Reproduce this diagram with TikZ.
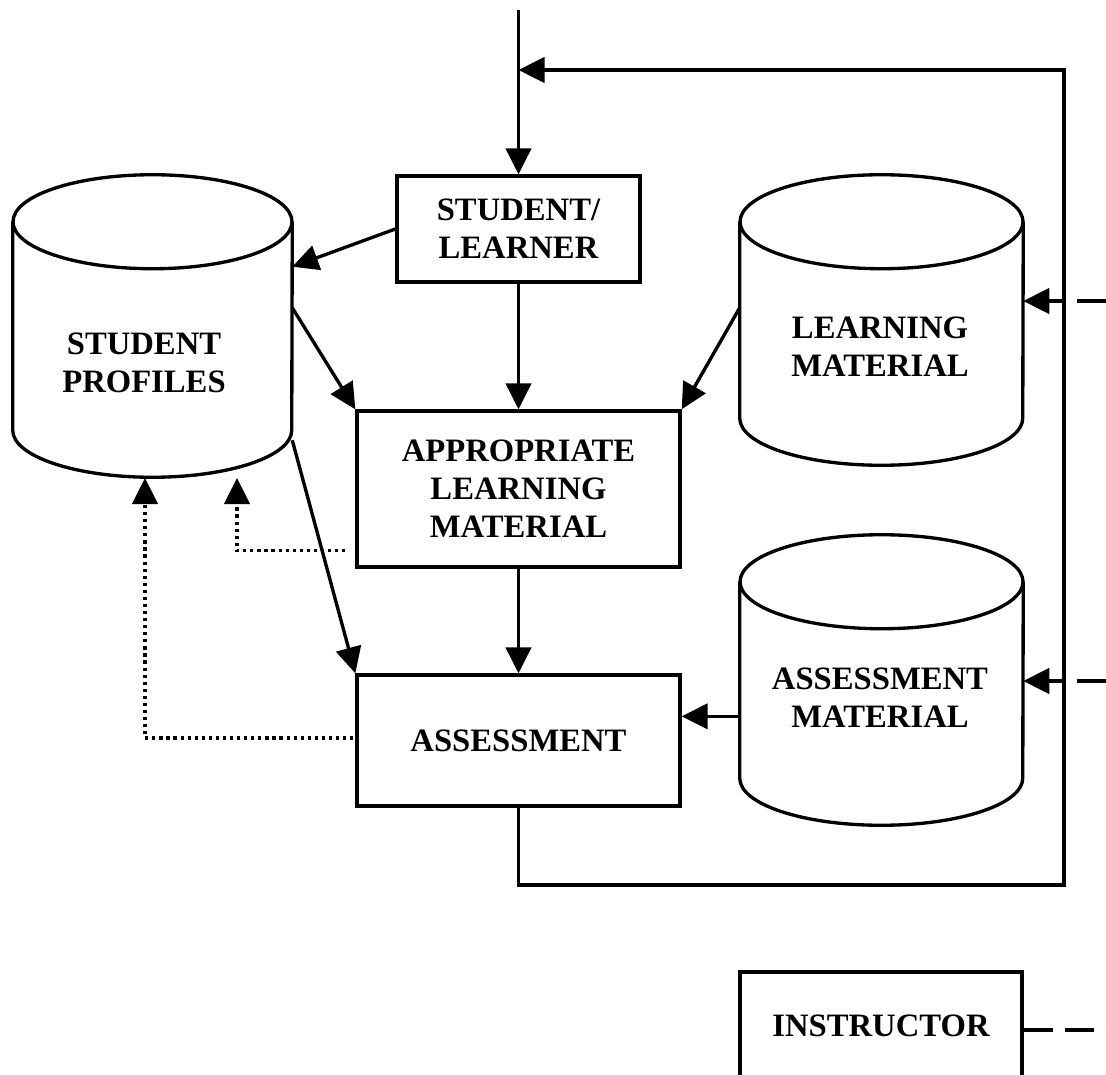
\documentclass[tikz,border=0pt]{standalone}
\usepackage{fontspec}
\setmainfont{Liberation Serif}
\usetikzlibrary{arrows.meta,calc}

% bold caption font used in every box
\newcommand\diaglabel{\fontsize{24.5}{28.5}\selectfont\bfseries}

% draws a database cylinder around a body node: sides, bottom half ellipse, top ellipse
\newcommand\drawcyl[3]{%
  \draw[line] (#1.north west) -- (#1.south west)
    arc[start angle=180,end angle=360,x radius=#2,y radius=#3] -- (#1.north east);
  \draw[line] (#1.north) ellipse[x radius=#2,y radius=#3];}

\begin{document}
\begin{tikzpicture}[x=0.75pt,y=-0.75pt,
  line/.style={line width=2.5pt},
  arr/.style={line, -{Triangle[length=19.5pt,width=19pt]}},
  dotline/.style={arr, dash pattern=on 2.4pt off 2.9pt},
  dashline/.style={arr, dash pattern=on 21.75pt off 9.75pt},
  box/.style={draw, line width=2.5pt, inner sep=0pt, align=center, font=\diaglabel},
  body/.style={inner sep=0pt},
  lbl/.style={align=center, font=\diaglabel, inner sep=0pt}]

\useasboundingbox (0,0) rectangle (1106,1074);
\clip (0,0) rectangle (1106,1074);

% boxes
\node[box, minimum width=182.25pt, minimum height=79.5pt] (stud) at (518.5,229) {STUDENT/\\LEARNER};
\node[box, minimum width=242.25pt, minimum height=117pt] (app) at (518.5,489) {APPROPRIATE\\LEARNING\\MATERIAL};
\node[box, minimum width=242.25pt, minimum height=98.25pt] (ass) at (518.5,740.5) {ASSESSMENT};
\node[box, minimum width=211.5pt, minimum height=81pt] (instr) at (881,1026) {INSTRUCTOR};

% cylinder bodies (between the centres of the end ellipses)
\node[body, minimum width=209.25pt, minimum height=156pt] (spro) at (152.5,326) {};
\node[body, minimum width=212.25pt, minimum height=147pt] (lm) at (881.5,320) {};
\node[body, minimum width=212.25pt, minimum height=147pt] (am) at (881.5,680) {};
\drawcyl{spro}{104.625pt}{35.25pt}
\drawcyl{lm}{106.125pt}{35.25pt}
\drawcyl{am}{106.125pt}{35.25pt}

\node[lbl] (sprot) at (144,363) {STUDENT\\PROFILES};
\node[lbl] (lmt) at (880,346.5) {LEARNING\\MATERIAL};
\node[lbl] (amt) at (880,697.5) {ASSESSMENT\\MATERIAL};

% main flow
\coordinate (in) at (518.5,10);
\draw[arr] (in) -- (stud.north);
\draw[arr] (stud.west) -- ($(spro.north east)+(0,45)$);
\draw[arr] ($(spro.north east)+(0,86)$) -- (app.north west);
\draw[arr] (stud.south) -- (app.north);
\draw[arr] ($(lm.north west)+(0,86)$) -- (app.north east);
\draw[arr] (app.south) -- (ass.north);
\draw[arr] ($(spro.south east)+(0,10)$) -- (ass.north west);
\coordinate (amin) at ($(ass.north east)+(0,43)$);
\draw[arr] (am.west |- amin) -- (amin);

% profile updates
\coordinate (d1) at ($(app.south west)+(-10,-18)$);
\coordinate (d1t) at (237,478);
\draw[dotline] (d1) -| (d1t);
\coordinate (d2) at ($(ass.west)+(-2,-2.5)$);
\coordinate (d2t) at (145,478);
\draw[dotline] (d2) -| (d2t);

% feedback loop
\coordinate (fbb) at (1064,885);
\coordinate (fbt) at (1064,70);
\draw[arr] (ass.south) |- (fbb) -- (fbt) -- (stud.north |- fbt);

% instructor links
\coordinate (r1) at (1106,301);
\draw[dashline] (r1) -- (lm.east |- r1);
\coordinate (r2) at (1106,681);
\draw[dashline] (r2) -- (am.east |- r2);
\coordinate (r3) at (1106,1030);
\draw[line, dash pattern=on 21.75pt off 9pt] (instr.east |- r3) -- (r3);
\end{tikzpicture}
\end{document}
